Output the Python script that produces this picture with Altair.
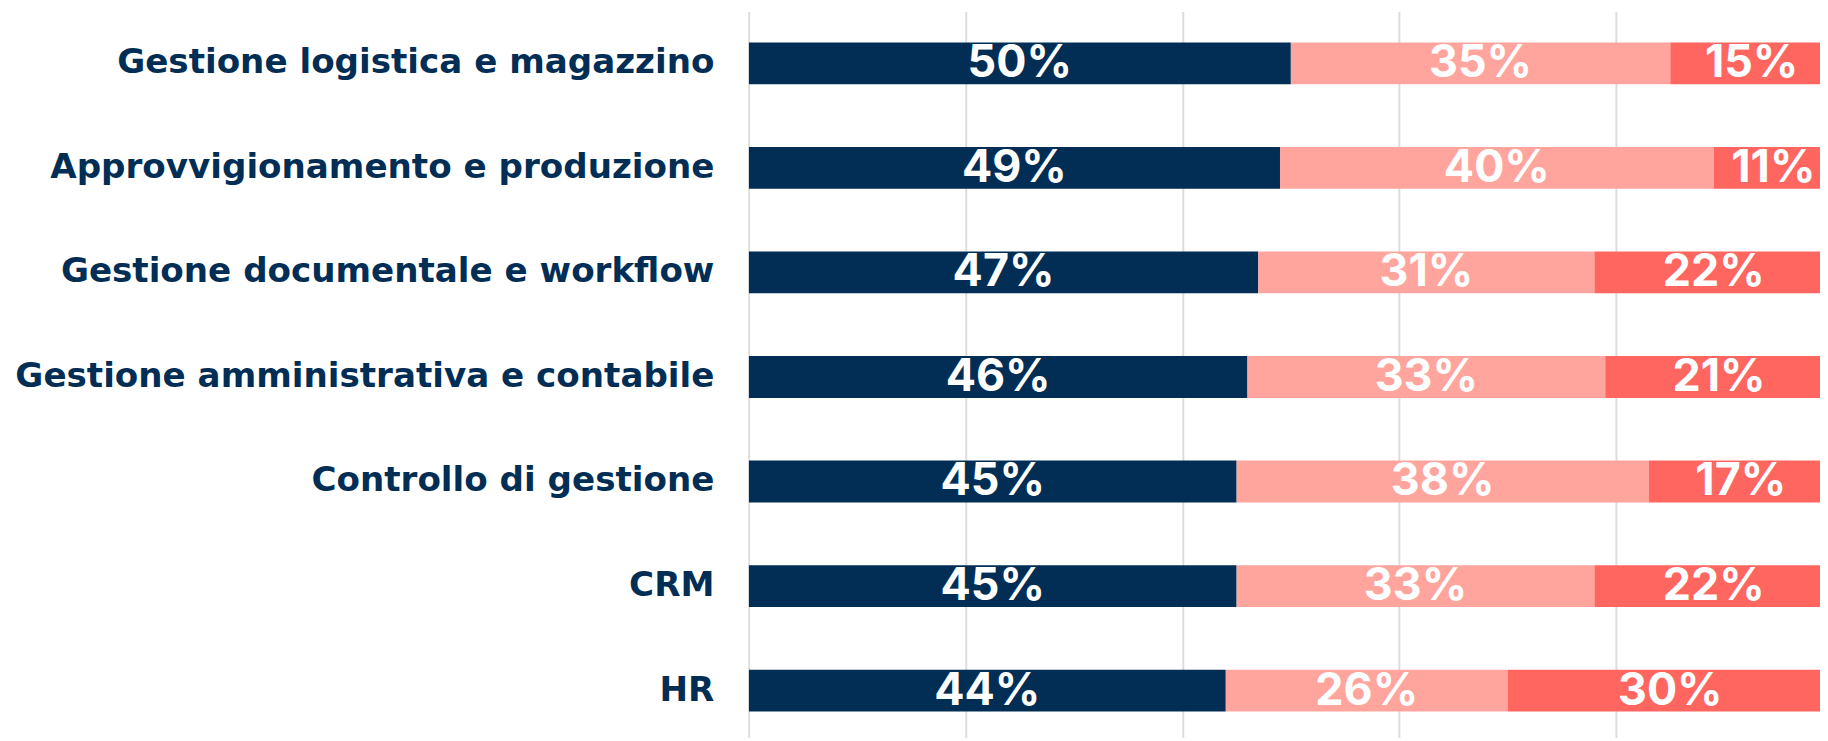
import altair as alt
import pandas as pd

categories = [
    "Gestione logistica e magazzino",
    "Approvvigionamento e produzione",
    "Gestione documentale e workflow",
    "Gestione amministrativa e contabile",
    "Controllo di gestione",
    "CRM",
    "HR",
]
seg_a = [50, 49, 47, 46, 45, 45, 44]
seg_b = [35, 40, 31, 33, 38, 33, 26]
seg_c = [15, 11, 22, 21, 17, 22, 30]
segments = ["A", "B", "C"]
seg_colors = ["#022E55", "#FFA59E", "#FF665F"]
grid_values = [0, 20, 40, 60, 80, 100]

rows = []
for i, cat in enumerate(categories):
    for j, vals in enumerate([seg_a, seg_b, seg_c]):
        rows.append({"cat": cat, "seg": segments[j], "ord": j, "value": vals[i]})
df = pd.DataFrame(rows)

NAVY = "#022E55"
LABEL_FONT = "DejaVu Sans"
BAR_FONT = "Inter"
W = 1076
H = 729
x_max = 100 * W / 1089

base = (
    alt.Chart(df)
    .transform_stack(stack="value", as_=["x0", "x1"], groupby=["cat"],
                     sort=[alt.SortField("ord", order="ascending")])
    .transform_calculate(mid="(datum.x0 + datum.x1) / 2",
                         label="datum.value + '%'")
)

y_enc = alt.Y(
    "cat:N",
    sort=categories,
    scale=alt.Scale(paddingInner=0.6, paddingOuter=0.2714, align=0.544),
    axis=alt.Axis(
        title=None, ticks=False, domain=False, grid=False,
        labelFont=LABEL_FONT, labelFontSize=34.3, labelFontWeight="bold",
        labelColor=NAVY, labelPadding=35, labelLimit=0,
    ),
)
x_scale = alt.Scale(domain=[0, x_max], nice=False, zero=True)

bars = base.mark_bar(clip=True).encode(
    y=y_enc,
    x=alt.X("x0:Q", scale=x_scale,
            axis=alt.Axis(title=None, values=grid_values, labels=False,
                          ticks=False, domain=False, grid=True,
                          gridColor="#DDDDDD", gridWidth=2)),
    x2="x1:Q",
    color=alt.Color("seg:N", scale=alt.Scale(domain=segments, range=seg_colors),
                    legend=None),
)

texts = base.mark_text(
    color="white", font=BAR_FONT, fontWeight="bold", fontSize=45,
    baseline="middle", align="center", clip=True,
).encode(
    y=alt.Y("cat:N", sort=categories),
    x=alt.X("mid:Q", scale=x_scale),
    text="label:N",
)

chart = (
    alt.layer(bars, texts)
    .properties(
        width=W, height=H,
        autosize=alt.AutoSizeParams(type="none"),
        padding={"left": 744, "top": 2, "right": 0, "bottom": 0},
    )
    .configure_view(stroke=None)
)

chart.save("out.html", embed_options={"renderer": "svg", "actions": False})
